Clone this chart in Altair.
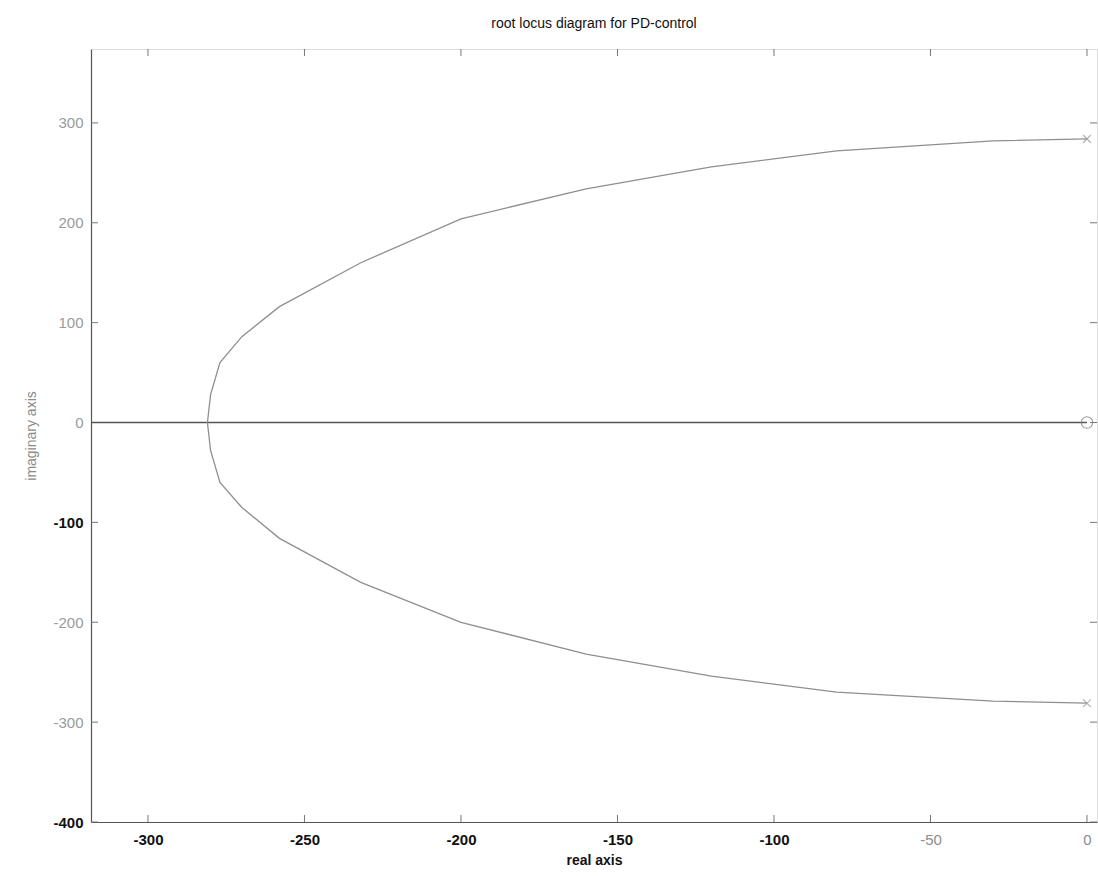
import altair as alt
import pandas as pd

# Root locus branches (real part, imaginary part)
upper_re = [0, -30, -80, -120, -160, -200, -232, -258, -270, -277, -280, -281]
upper_im = [284, 282, 272, 256, 234, 204, 160, 116, 86, 60, 28, 0]
lower_re = [-281, -280, -277, -270, -258, -232, -200, -160, -120, -80, -30, 0]
lower_im = [0, -28, -60, -85, -116, -160, -200, -232, -254, -270, -279, -281]

# Real-axis segment of the locus
axis_re = [-330, 0]
axis_im = [0, 0]

# Open-loop poles and zero
pole_re = [0, 0]
pole_im = [284, -281]
zero_re = [0]
zero_im = [0]

x_ticks = [-300, -250, -200, -150, -100, -50, 0]
y_ticks = [-400, -300, -200, -100, 0, 100, 200, 300]

X_DOMAIN = [-318.2, 3.2]
Y_DOMAIN = [-400, 374]
W, H = 1006, 773
TICK = 7

branches = pd.concat([
    pd.DataFrame({"re": upper_re, "im": upper_im, "branch": "upper", "i": range(len(upper_re))}),
    pd.DataFrame({"re": lower_re, "im": lower_im, "branch": "lower", "i": range(len(lower_re))}),
])
real_seg = pd.DataFrame({"re": axis_re, "im": axis_im})
poles = pd.DataFrame({"re": pole_re, "im": pole_im})
zeros = pd.DataFrame({"re": zero_re, "im": zero_im})
xt = pd.DataFrame({"v": x_ticks})
yt = pd.DataFrame({"v": y_ticks})

FONT = "Liberation Sans"

x_scale = alt.Scale(domain=X_DOMAIN, nice=False, zero=False)
y_scale = alt.Scale(domain=Y_DOMAIN, nice=False, zero=False)

x_dark = "datum.value <= -100"
y_dark = "datum.value == -100 || datum.value == -400"

x_axis = alt.Axis(
    values=x_ticks, title="real axis", grid=False, tickSize=0,
    domain=True, domainColor="#555555", domainWidth=1.2,
    labelExpr="datum.value + ''",
    labelFontSize=15, labelPadding=10, labelFont=FONT,
    labelColor={"condition": {"test": x_dark, "value": "#111111"}, "value": "#8c8c8c"},
    labelFontWeight={"condition": {"test": x_dark, "value": "bold"}, "value": "normal"},
    titleFontSize=14, titleFont=FONT, titleFontWeight="bold", titleColor="#111111", titlePadding=6,
)
y_axis = alt.Axis(
    values=y_ticks, title="imaginary axis", grid=False, tickSize=0,
    domain=True, domainColor="#555555", domainWidth=1.2,
    labelExpr="datum.value + ''",
    labelFontSize=15, labelPadding=8, labelFont=FONT,
    labelColor={"condition": {"test": y_dark, "value": "#111111"}, "value": "#9a9a9a"},
    labelFontWeight={"condition": {"test": y_dark, "value": "bold"}, "value": "normal"},
    titleFontSize=14, titleFont=FONT, titleFontWeight="normal", titleColor="#8a8a8a", titlePadding=14,
)

real_line = alt.Chart(real_seg).mark_line(color="#555555", strokeWidth=1.6, clip=True).encode(
    x=alt.X("re:Q", scale=x_scale, axis=x_axis),
    y=alt.Y("im:Q", scale=y_scale, axis=y_axis),
)

locus = alt.Chart(branches).mark_line(color="#8f8f8f", strokeWidth=1.3, clip=True).encode(
    x=alt.X("re:Q", scale=x_scale),
    y=alt.Y("im:Q", scale=y_scale),
    detail="branch:N",
    order="i:Q",
)

pole_marks = alt.Chart(poles).mark_point(
    shape="M-1,-1L1,1M-1,1L1,-1", size=60, filled=False, color="#8f8f8f", strokeWidth=1.1
).encode(x=alt.X("re:Q", scale=x_scale), y=alt.Y("im:Q", scale=y_scale))

zero_marks = alt.Chart(zeros).mark_point(
    shape="circle", size=130, filled=False, color="#777777", strokeWidth=1.1
).encode(x=alt.X("re:Q", scale=x_scale), y=alt.Y("im:Q", scale=y_scale))

# Inward tick marks on all four sides of the frame
tick_style = dict(color="#777777", strokeWidth=1)
bottom_ticks = alt.Chart(xt).mark_rule(**tick_style).encode(
    x=alt.X("v:Q", scale=x_scale), y=alt.value(H), y2=alt.value(H - TICK))
top_ticks = alt.Chart(xt).mark_rule(**tick_style).encode(
    x=alt.X("v:Q", scale=x_scale), y=alt.value(0), y2=alt.value(TICK))
left_ticks = alt.Chart(yt).mark_rule(**tick_style).encode(
    y=alt.Y("v:Q", scale=y_scale), x=alt.value(0), x2=alt.value(TICK))
right_ticks = alt.Chart(yt).mark_rule(**tick_style).encode(
    y=alt.Y("v:Q", scale=y_scale), x=alt.value(W), x2=alt.value(W - TICK))

chart = alt.layer(
    bottom_ticks, top_ticks, left_ticks, right_ticks,
    real_line, locus, pole_marks, zero_marks,
).properties(
    width=W, height=H,
    title=alt.TitleParams(
        "root locus diagram for PD-control", fontSize=14, font=FONT,
        fontWeight="normal", color="#111111", anchor="middle", offset=18,
    ),
    autosize=alt.AutoSizeParams(type="none"),
    padding={"left": 91, "top": 49, "right": 1, "bottom": 54},
).configure_view(
    stroke="#9a9a9a", strokeWidth=1
).configure(background="white")

chart.save("out.html", embed_options={"renderer": "svg", "actions": False})
